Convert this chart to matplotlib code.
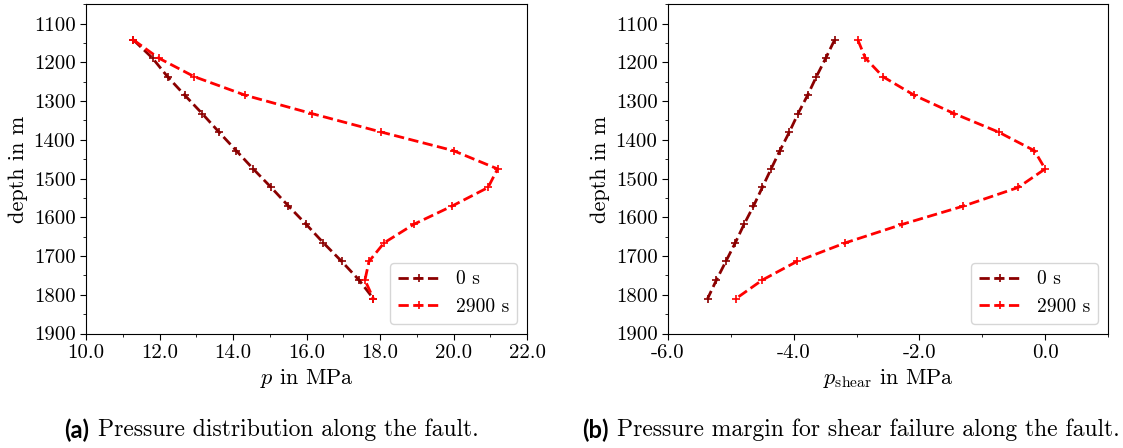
import matplotlib
matplotlib.use("Agg")
import matplotlib.pyplot as plt
from matplotlib.ticker import FormatStrFormatter, MultipleLocator

plt.rcParams["font.family"] = "serif"
plt.rcParams["font.serif"] = ["cmr10"]
plt.rcParams["mathtext.fontset"] = "cm"
plt.rcParams["axes.unicode_minus"] = False
plt.rcParams["axes.formatter.use_mathtext"] = True

# Depth of the evaluation points along the fault (m)
depth = [1142, 1189, 1237, 1285, 1332, 1380, 1428, 1475,
         1523, 1571, 1618, 1666, 1714, 1762, 1810]

# Pore pressure along the fault (MPa)
p_0s = [11.29, 11.81, 12.22, 12.69, 13.16, 13.62, 14.09, 14.55,
        15.04, 15.51, 15.99, 16.46, 16.96, 17.43, 17.82]
p_2900s = [11.29, 11.98, 12.95, 14.34, 16.14, 18.04, 20.00, 21.20,
           20.94, 19.96, 18.92, 18.11, 17.70, 17.59, 17.82]

# Pressure margin for shear failure (MPa)
pshear_0s = [-3.35, -3.49, -3.64, -3.78, -3.93, -4.07, -4.22, -4.36,
             -4.50, -4.64, -4.79, -4.93, -5.08, -5.23, -5.37]
pshear_2900s = [-2.98, -2.86, -2.58, -2.08, -1.45, -0.74, -0.17, 0.00,
                -0.43, -1.30, -2.27, -3.18, -3.95, -4.50, -4.92]

series_labels = ["0 s", "2900 s"]
series_colors = ["#8b0000", "#ff0000"]

fig = plt.figure(figsize=(11.23, 4.48), dpi=100)
ax1 = fig.add_axes([86 / 1123, 114.5 / 448, 441 / 1123, 329.2 / 448])
ax2 = fig.add_axes([668 / 1123, 114.5 / 448, 440 / 1123, 329.2 / 448])

line_kw = dict(linestyle="--", linewidth=2.0, marker="+", markersize=6,
               markeredgewidth=1.2)

for ys, lab, col in zip([p_0s, p_2900s], series_labels, series_colors):
    ax1.plot(ys, depth, color=col, label=lab, **line_kw)
for ys, lab, col in zip([pshear_0s, pshear_2900s], series_labels, series_colors):
    ax2.plot(ys, depth, color=col, label=lab, **line_kw)

ax1.set_xlim(10, 22)
ax1.xaxis.set_major_locator(MultipleLocator(2))
ax1.xaxis.set_minor_locator(MultipleLocator(1))
ax1.set_xlabel(r"$p$ in MPa", fontsize=16, labelpad=4)

ax2.set_xlim(-6, 1)
ax2.xaxis.set_major_locator(MultipleLocator(2))
ax2.xaxis.set_minor_locator(MultipleLocator(1))
ax2.set_xlabel(r"$p_{\mathrm{shear}}$ in MPa", fontsize=16, labelpad=4)

for ax in (ax1, ax2):
    ax.set_ylim(1900, 1050)
    ax.yaxis.set_major_locator(MultipleLocator(100))
    ax.yaxis.set_minor_locator(MultipleLocator(50))
    ax.xaxis.set_major_formatter(FormatStrFormatter("%.1f"))
    ax.yaxis.set_major_formatter(FormatStrFormatter("%d"))
    ax.tick_params(axis="both", which="major", labelsize=15, length=4)
    ax.tick_params(axis="both", which="minor", length=2.5)
    ax.set_ylabel("depth in m", fontsize=16, labelpad=4)
    ax.legend(loc="lower right", fontsize=14, handlelength=2.2)

# Sub-figure captions: bold sans tag followed by serif text
cap_y = 18 / 448
cap_size = 17
fig.canvas.draw()
renderer = fig.canvas.get_renderer()
for tag, text, right in [("(a)", "Pressure distribution along the fault.", 479),
                         ("(b)", "Pressure margin for shear failure along the fault.", 1120)]:
    t = fig.text(right / 1123, cap_y, text, fontsize=cap_size,
                 va="center", ha="right")
    bb = t.get_window_extent(renderer)
    fig.text((bb.x0 - 9) / 1123, cap_y, tag, family="Lato", weight="bold",
             fontsize=cap_size, va="center", ha="right")

fig.savefig("out.png", dpi=100)
